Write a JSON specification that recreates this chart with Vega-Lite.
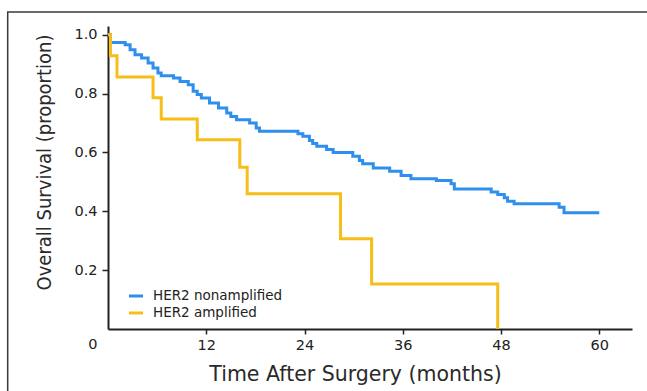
{
  "$schema": "https://vega.github.io/schema/vega-lite/v6.json",
  "autosize": {"type": "none"},
  "width": 524,
  "height": 303,
  "padding": {"left": 108, "top": 26, "right": 15, "bottom": 62},
  "background": "white",
  "config": {
    "view": {"stroke": null},
    "axis": {"grid": false, "domainColor": "#222", "domainWidth": 2, "tickColor": "#222", "tickWidth": 1.5, "labelColor": "#222", "labelFont": "DejaVu Sans", "labelFontSize": 14.5, "titleColor": "#2a2a2a", "titleFontWeight": "normal"}
  },
  "layer": [
    {
      "data": {"values": [
        {"t": 0, "s": 1.0, "g": "HER2 nonamplified"},
        {"t": 0.3, "s": 0.974, "g": "HER2 nonamplified"},
        {"t": 2.1, "s": 0.966, "g": "HER2 nonamplified"},
        {"t": 2.7, "s": 0.949, "g": "HER2 nonamplified"},
        {"t": 3.3, "s": 0.932, "g": "HER2 nonamplified"},
        {"t": 4.1, "s": 0.921, "g": "HER2 nonamplified"},
        {"t": 4.9, "s": 0.904, "g": "HER2 nonamplified"},
        {"t": 5.5, "s": 0.887, "g": "HER2 nonamplified"},
        {"t": 6.1, "s": 0.870, "g": "HER2 nonamplified"},
        {"t": 6.5, "s": 0.861, "g": "HER2 nonamplified"},
        {"t": 8.0, "s": 0.853, "g": "HER2 nonamplified"},
        {"t": 8.8, "s": 0.841, "g": "HER2 nonamplified"},
        {"t": 9.8, "s": 0.830, "g": "HER2 nonamplified"},
        {"t": 10.4, "s": 0.808, "g": "HER2 nonamplified"},
        {"t": 10.9, "s": 0.797, "g": "HER2 nonamplified"},
        {"t": 11.4, "s": 0.785, "g": "HER2 nonamplified"},
        {"t": 12.4, "s": 0.768, "g": "HER2 nonamplified"},
        {"t": 13.5, "s": 0.751, "g": "HER2 nonamplified"},
        {"t": 14.5, "s": 0.734, "g": "HER2 nonamplified"},
        {"t": 15.0, "s": 0.722, "g": "HER2 nonamplified"},
        {"t": 15.7, "s": 0.711, "g": "HER2 nonamplified"},
        {"t": 17.3, "s": 0.700, "g": "HER2 nonamplified"},
        {"t": 18.1, "s": 0.683, "g": "HER2 nonamplified"},
        {"t": 18.5, "s": 0.672, "g": "HER2 nonamplified"},
        {"t": 23.2, "s": 0.664, "g": "HER2 nonamplified"},
        {"t": 23.8, "s": 0.655, "g": "HER2 nonamplified"},
        {"t": 24.6, "s": 0.641, "g": "HER2 nonamplified"},
        {"t": 25.0, "s": 0.631, "g": "HER2 nonamplified"},
        {"t": 25.5, "s": 0.621, "g": "HER2 nonamplified"},
        {"t": 26.7, "s": 0.610, "g": "HER2 nonamplified"},
        {"t": 27.5, "s": 0.600, "g": "HER2 nonamplified"},
        {"t": 29.9, "s": 0.587, "g": "HER2 nonamplified"},
        {"t": 30.7, "s": 0.573, "g": "HER2 nonamplified"},
        {"t": 31.1, "s": 0.562, "g": "HER2 nonamplified"},
        {"t": 32.4, "s": 0.547, "g": "HER2 nonamplified"},
        {"t": 34.4, "s": 0.536, "g": "HER2 nonamplified"},
        {"t": 35.8, "s": 0.522, "g": "HER2 nonamplified"},
        {"t": 37.0, "s": 0.511, "g": "HER2 nonamplified"},
        {"t": 40.1, "s": 0.505, "g": "HER2 nonamplified"},
        {"t": 41.9, "s": 0.494, "g": "HER2 nonamplified"},
        {"t": 42.3, "s": 0.476, "g": "HER2 nonamplified"},
        {"t": 46.8, "s": 0.466, "g": "HER2 nonamplified"},
        {"t": 47.6, "s": 0.457, "g": "HER2 nonamplified"},
        {"t": 48.4, "s": 0.446, "g": "HER2 nonamplified"},
        {"t": 48.8, "s": 0.434, "g": "HER2 nonamplified"},
        {"t": 49.6, "s": 0.426, "g": "HER2 nonamplified"},
        {"t": 55.1, "s": 0.414, "g": "HER2 nonamplified"},
        {"t": 55.7, "s": 0.395, "g": "HER2 nonamplified"},
        {"t": 60.0, "s": 0.395, "g": "HER2 nonamplified"},
        {"t": 0, "s": 1.0, "g": "HER2 amplified"},
        {"t": 0.3, "s": 0.929, "g": "HER2 amplified"},
        {"t": 1.1, "s": 0.857, "g": "HER2 amplified"},
        {"t": 5.5, "s": 0.786, "g": "HER2 amplified"},
        {"t": 6.5, "s": 0.714, "g": "HER2 amplified"},
        {"t": 10.9, "s": 0.643, "g": "HER2 amplified"},
        {"t": 16.1, "s": 0.55, "g": "HER2 amplified"},
        {"t": 17.0, "s": 0.46, "g": "HER2 amplified"},
        {"t": 28.4, "s": 0.307, "g": "HER2 amplified"},
        {"t": 32.2, "s": 0.153, "g": "HER2 amplified"},
        {"t": 47.6, "s": 0.0, "g": "HER2 amplified"}
      ]},
      "mark": {"type": "line", "interpolate": "step-after", "strokeWidth": 3},
      "encoding": {
        "x": {"field": "t", "type": "quantitative", "scale": {"domain": [0, 64]},
          "axis": {"values": [12, 24, 36, 48, 60], "title": "Time After Surgery (months)", "titleFont": "DejaVu Sans", "titleFontSize": 20.5, "titleX": 247, "titleY": 45, "titleBaseline": "middle", "tickSize": 5, "labelPadding": 4}},
        "y": {"field": "s", "type": "quantitative", "scale": {"domain": [0, 1.03]},
          "axis": {"values": [0, 0.2, 0.4, 0.6, 0.8, 1.0], "labelExpr": "datum.value == 0 ? '0' : format(datum.value, '.1f')",
            "labelOffset": {"condition": {"test": "datum.value == 0", "value": 15}, "value": 0},
            "tickOpacity": {"condition": {"test": "datum.value == 0", "value": 0}, "value": 1},
            "tickSize": 6, "labelPadding": 5,
            "title": "Overall Survival (proportion)", "titleFont": "DejaVu Sans Condensed, Liberation Sans Narrow, sans-serif", "titleFontSize": 20, "titleX": -64, "titleY": 136, "titleBaseline": "middle", "titleAngle": -90}},
        "color": {"field": "g", "type": "nominal",
          "scale": {"domain": ["HER2 nonamplified", "HER2 amplified"], "range": ["#2f8fec", "#f5be18"]},
          "legend": {"title": null, "orient": "none", "legendX": 19, "legendY": 261, "padding": 0, "symbolType": "stroke", "symbolSize": 200, "symbolStrokeWidth": 3, "labelFont": "DejaVu Sans", "labelFontSize": 13.5, "labelColor": "#222", "rowPadding": 1, "labelOffset": 8}}
      }
    },
    {
      "data": {"values": [{}]},
      "mark": {"type": "rect", "fill": null, "stroke": "#3a3a3a", "strokeWidth": 1.5, "clip": false},
      "encoding": {
        "x": {"datum": -12.25, "type": "quantitative", "scale": {"domain": [0, 64]}},
        "x2": {"datum": 70},
        "y": {"datum": 1.078, "type": "quantitative", "scale": {"domain": [0, 1.03]}},
        "y2": {"datum": -0.3}
      }
    }
  ]
}
